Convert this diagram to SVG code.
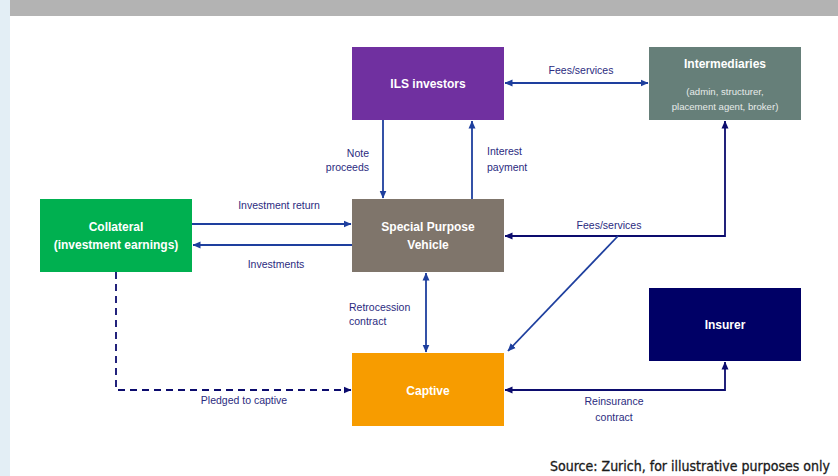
<svg xmlns="http://www.w3.org/2000/svg" width="838" height="476" viewBox="0 0 838 476">
<defs>
<marker id="ab" viewBox="0 0 8 8" refX="7.5" refY="4" markerWidth="8" markerHeight="8" markerUnits="userSpaceOnUse" orient="auto-start-reverse"><path d="M0,0.5 L8,4 L0,7.5 Z" fill="#1e3f9e"/></marker>
<marker id="an" viewBox="0 0 8 8" refX="7.5" refY="4" markerWidth="8" markerHeight="8" markerUnits="userSpaceOnUse" orient="auto-start-reverse"><path d="M0,0.5 L8,4 L0,7.5 Z" fill="#0c0c6e"/></marker>
</defs>
<style>
.box{stroke:none}
.t{font-family:"Liberation Sans",Arial,sans-serif;font-weight:bold;font-size:12px;fill:#ffffff;text-anchor:middle}
.s{font-family:"Liberation Sans",Arial,sans-serif;font-size:9.6px;fill:#e6ebe9;text-anchor:middle}
.l{font-family:"Liberation Sans",Arial,sans-serif;font-size:10.5px;fill:#2b2b80}
.b{fill:none;stroke:#1e3f9e;stroke-width:1.8}
.n{fill:none;stroke:#0c0c6e;stroke-width:1.8}
</style>
<rect x="0" y="0" width="838" height="476" fill="#ffffff"/>
<rect x="0" y="0" width="10" height="476" fill="#e3eef5"/>
<rect x="10" y="0" width="828" height="16" fill="#b3b3b3"/>

<g id="ils-investors"><rect class="box" x="352" y="47" width="152" height="73" fill="#7030a0"/><text class="t" x="428" y="88">ILS investors</text></g>
<g id="intermediaries"><rect class="box" x="649" y="47" width="152" height="73" fill="#667f79"/><text class="t" x="725" y="68">Intermediaries</text><text class="s" x="725" y="95">(admin, structurer,</text><text class="s" x="725" y="110">placement agent, broker)</text></g>
<g id="collateral"><rect class="box" x="40" y="199" width="152" height="73" fill="#00b050"/><text class="t" x="116" y="231">Collateral</text><text class="t" x="116" y="249">(investment earnings)</text></g>
<g id="spv"><rect class="box" x="352" y="199" width="152" height="73" fill="#7f756b"/><text class="t" x="428" y="231">Special Purpose</text><text class="t" x="428" y="249">Vehicle</text></g>
<g id="insurer"><rect class="box" x="649" y="288" width="152" height="73" fill="#000066"/><text class="t" x="725" y="329">Insurer</text></g>
<g id="captive"><rect class="box" x="352" y="353" width="152" height="73" fill="#f79c00"/><text class="t" x="428" y="395">Captive</text></g>

<g id="connectors">
<line class="b" x1="505" y1="83" x2="648" y2="83" marker-start="url(#ab)" marker-end="url(#ab)"/>
<line class="b" x1="383" y1="120" x2="383" y2="198" marker-end="url(#ab)"/>
<line class="b" x1="472" y1="199" x2="472" y2="121" marker-end="url(#ab)"/>
<polyline class="n" points="725,121 725,236 505,236" marker-start="url(#an)" marker-end="url(#an)"/>
<line class="b" x1="618" y1="236" x2="508" y2="351" marker-end="url(#ab)"/>
<line class="b" x1="192" y1="224" x2="351" y2="224" marker-end="url(#ab)"/>
<line class="b" x1="352" y1="245" x2="193" y2="245" marker-end="url(#ab)"/>
<line class="b" x1="426" y1="273" x2="426" y2="352" marker-start="url(#ab)" marker-end="url(#ab)"/>
<polyline class="n" points="116,272 116,390 351,390" stroke-dasharray="7,5" marker-end="url(#an)"/>
<polyline class="n" points="725,362 725,390 505,390" marker-start="url(#an)" marker-end="url(#an)"/>
</g>

<g id="labels">
<text class="l" x="369" y="157" text-anchor="end">Note</text>
<text class="l" x="369" y="171" text-anchor="end">proceeds</text>
<text class="l" x="581" y="74" text-anchor="middle">Fees/services</text>
<text class="l" x="487" y="155">Interest</text>
<text class="l" x="487" y="171">payment</text>
<text class="l" x="609" y="229" text-anchor="middle">Fees/services</text>
<text class="l" x="279" y="209" text-anchor="middle">Investment return</text>
<text class="l" x="276" y="268" text-anchor="middle">Investments</text>
<text class="l" x="349" y="311">Retrocession</text>
<text class="l" x="349" y="325">contract</text>
<text class="l" x="244" y="404" text-anchor="middle">Pledged to captive</text>
<text class="l" x="614" y="405" text-anchor="middle">Reinsurance</text>
<text class="l" x="614" y="421" text-anchor="middle">contract</text>
</g>
<text x="830" y="471" text-anchor="end" font-family="'DejaVu Sans Condensed','DejaVu Sans',sans-serif" font-size="14px" font-weight="500" fill="#1a1a1a" stroke="#1a1a1a" stroke-width="0.3" textLength="280" lengthAdjust="spacingAndGlyphs">Source: Zurich, for illustrative purposes only</text>
</svg>
